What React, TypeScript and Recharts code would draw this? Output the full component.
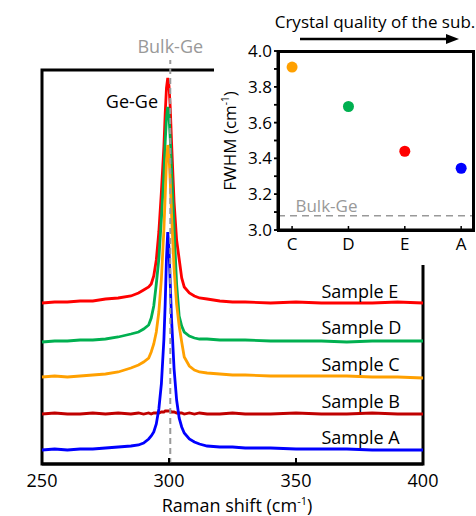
import React from "react";
import {
  LineChart,
  Line,
  XAxis,
  YAxis,
  ReferenceLine,
  ReferenceArea,
  ReferenceDot,
  ScatterChart,
  Scatter,
  Cell,
  Label,
} from "recharts";

const FONT = "'Open Sans', sans-serif";

// Raman shift positions (cm-1)
const ramanShift = [
  250, 255, 260, 265, 270, 275, 280, 285, 288, 290, 292, 293, 294, 295, 296, 297, 298, 298.5, 299, 299.5,
  300, 300.5, 301, 302, 303, 304, 305, 306, 308, 310, 312, 315, 320, 325, 330, 340, 350, 360, 370, 380, 390, 400,
];

// intensities (arb. units, stacked with offsets as in the figure)
const sampleE = [
  161, 162, 162, 163, 163, 165, 166, 168, 171, 174, 177, 180, 188, 204, 232, 272, 318, 350, 376, 386,
  378, 356, 322, 262, 224, 205, 186, 177, 171, 168, 166, 165, 163, 162, 162, 161, 162, 161, 161, 161, 162, 161,
];
const sampleD = [
  122, 123, 123, 124, 124, 125, 127, 130, 132, 135, 139, 146, 158, 180, 205, 245, 290, 322, 346, 357,
  348, 325, 295, 235, 180, 148, 138, 132, 128, 126, 125, 125, 124, 124, 124, 123, 123, 123, 122, 123, 123, 123,
];
const sampleC = [
  87, 88, 87, 88, 89, 90, 92, 96, 99, 102, 106, 112, 120, 132, 152, 185, 235, 268, 302, 319,
  308, 282, 250, 195, 160, 138, 122, 107, 98, 94, 92, 91, 90, 89, 89, 88, 88, 88, 88, 87, 87, 86,
];
const sampleB = [
  50, 51, 50, 50, 51, 50, 51, 50, 51, 50, 51, 50, 51, 51, 51, 52, 52, 53, 53, 53,
  53, 53, 52, 52, 51, 51, 51, 50, 51, 50, 51, 50, 50, 51, 50, 50, 51, 50, 50, 51, 50, 50,
];
const sampleA = [
  14, 15, 14, 15, 15, 16, 17, 18, 19, 21, 25, 28, 32, 40, 55, 80, 125, 160, 205, 232,
  215, 180, 145, 95, 64, 46, 37, 31, 25, 22, 20, 18, 17, 17, 16, 16, 15, 15, 15, 14, 14, 14,
];

const ramanTicks = [250, 300, 350, 400];
const bulkGePeak = 300.5;

// inset: FWHM vs sample
const fwhmSamples = ["C", "D", "E", "A"];
const fwhmValues = [3.91, 3.69, 3.44, 3.345];
const bulkGeFwhm = 3.08;
const fwhmTicks = [3, 3.1, 3.2, 3.3, 3.4, 3.5, 3.6, 3.7, 3.8, 3.9, 4];

const sampleColors: Record<string, string> = {
  A: "#0000ff",
  B: "#c00000",
  C: "#ffa000",
  D: "#00b050",
  E: "#ff0000",
};

const spectra = ramanShift.map((x, i) => ({
  x,
  A: sampleA[i],
  B: sampleB[i],
  C: sampleC[i],
  D: sampleD[i],
  E: sampleE[i],
}));

const fwhmData = fwhmSamples.map((s, i) => ({ pos: i + 1, fwhm: fwhmValues[i], sample: s }));

// plot boxes (page pixels) shared by the charts and the axis decoration overlay
const MAIN = { left: 42, right: 423, bottom: 464, xMin: 250, xMax: 400 };
const INSET = { left: 278, right: 473, top: 51, bottom: 230, xMin: 0.75, xMax: 4.21, yMin: 3, yMax: 4 };
const mainX = (v: number) => MAIN.left + ((v - MAIN.xMin) / (MAIN.xMax - MAIN.xMin)) * (MAIN.right - MAIN.left);
const insetX = (v: number) => INSET.left + ((v - INSET.xMin) / (INSET.xMax - INSET.xMin)) * (INSET.right - INSET.left);
const insetY = (v: number) => INSET.bottom - ((v - INSET.yMin) / (INSET.yMax - INSET.yMin)) * (INSET.bottom - INSET.top);

const RamanLabel = () => (
  <text x={237} y={512} textAnchor="middle" fontSize={18} fontFamily={FONT} fill="#000">
    Raman shift (cm
    <tspan dy={-7} fontSize={11}>-1</tspan>
    <tspan dy={7}>)</tspan>
  </text>
);

const IntensityLabel = () => (
  <text
    x={28}
    y={262}
    transform="rotate(-90 28 262)"
    textAnchor="middle"
    fontSize={18}
    fontFamily={FONT}
    fill="#000"
  >
    Intensity (arb.units)
  </text>
);

const FwhmLabel = () => (
  <text
    x={22}
    y={141}
    transform="rotate(-90 22 141)"
    textAnchor="middle"
    fontSize={17}
    fontFamily={FONT}
    fill="#000"
  >
    FWHM (cm
    <tspan dy={-7} fontSize={10}>-1</tspan>
    <tspan dy={7}>)</tspan>
  </text>
);

const sampleLabel = (value: string) => ({
  value,
  position: "right" as const,
  offset: 0,
  fontSize: 18,
  fontFamily: FONT,
  fill: "#000",
});

const frame = { stroke: "#000", strokeWidth: 3 };

export default function App() {
  return (
    <div style={{ position: "absolute", left: 0, top: 0, width: 476, height: 516, background: "#fff" }}>
      <LineChart width={476} height={516} data={spectra} margin={{ top: 60, right: 53, bottom: 22, left: 42 }}>
        <XAxis
          dataKey="x"
          type="number"
          domain={[MAIN.xMin, MAIN.xMax]}
          ticks={ramanTicks}
          axisLine={frame}
          tickLine={{ stroke: "none" }}
          tickMargin={4}
          height={30}
          tick={{ fill: "#000", fontSize: 18, fontFamily: FONT }}
          label={<Label content={RamanLabel} />}
        />
        <YAxis
          type="number"
          domain={[0, 404]}
          width={0}
          axisLine={false}
          tick={false}
          label={<Label content={IntensityLabel} />}
        />
        <ReferenceArea x1={250} x2={400} y1={0} y2={394} fill="none" stroke="#000" strokeWidth={3} ifOverflow="visible" />

        {(["E", "D", "C", "B", "A"] as const).map((k) => (
          <Line
            key={k}
            dataKey={k}
            type="linear"
            stroke={sampleColors[k]}
            strokeWidth={2.8}
            dot={false}
            isAnimationActive={false}
          />
        ))}

        <ReferenceLine
          x={bulkGePeak}
          stroke="#999"
          strokeWidth={2}
          strokeDasharray="6 4"
          label={{ value: "Bulk-Ge", position: "top", offset: 7, fill: "#999", fontSize: 18, fontFamily: FONT }}
        />

        <ReferenceDot
          x={285.4}
          y={362}
          r={0}
          fill="none"
          stroke="none"
          label={{ value: "Ge-Ge", position: "center", fontSize: 18, fontFamily: FONT, fill: "#000" }}
        />
        <ReferenceDot x={360} y={172} r={0} fill="none" stroke="none" label={sampleLabel("Sample E")} />
        <ReferenceDot x={360} y={136} r={0} fill="none" stroke="none" label={sampleLabel("Sample D")} />
        <ReferenceDot x={360} y={99} r={0} fill="none" stroke="none" label={sampleLabel("Sample C")} />
        <ReferenceDot x={360} y={62} r={0} fill="none" stroke="none" label={sampleLabel("Sample B")} />
        <ReferenceDot x={360} y={26} r={0} fill="none" stroke="none" label={sampleLabel("Sample A")} />
      </LineChart>

      <div style={{ position: "absolute", left: 214, top: 0, width: 262, height: 265, background: "#fff" }}>
        <ScatterChart width={262} height={265} margin={{ top: 51, right: 3, bottom: 5, left: 0 }}>
          <XAxis
            type="number"
            dataKey="pos"
            domain={[INSET.xMin, INSET.xMax]}
            allowDataOverflow
            ticks={[1, 2, 3, 4]}
            tickFormatter={(v: number) => fwhmSamples[v - 1]}
            axisLine={frame}
            tickLine={{ stroke: "none" }}
            tickMargin={2}
            height={30}
            interval={0}
            tick={{ fill: "#000", fontSize: 17, fontFamily: FONT }}
          />
          <YAxis
            type="number"
            dataKey="fwhm"
            domain={[INSET.yMin, INSET.yMax]}
            allowDataOverflow
            ticks={fwhmTicks}
            interval={0}
            tickFormatter={(v: number) => (Math.round(v * 10) % 2 === 0 ? v.toFixed(1) : "")}
            width={64}
            axisLine={frame}
            tickSize={4}
            tickMargin={2}
            tickLine={{ stroke: "#000", strokeWidth: 1.5 }}
            tick={{ fill: "#000", fontSize: 17, fontFamily: FONT }}
            label={<Label content={FwhmLabel} />}
          />
          <ReferenceLine y={bulkGeFwhm} stroke="#999" strokeWidth={1.5} strokeDasharray="7 5" ifOverflow="visible" />
          <ReferenceDot
            x={1.61}
            y={3.134}
            r={0}
            fill="none"
            stroke="none"
            ifOverflow="visible"
            label={{ value: "Bulk-Ge", position: "center", fontSize: 17, fontFamily: FONT, fill: "#999" }}
          />
          <Scatter
            data={fwhmData}
            isAnimationActive={false}
            shape={(p: any) => <circle cx={p.cx} cy={p.cy} r={5.5} fill={p.fill} />}
          >
            {fwhmData.map((d) => (
              <Cell key={d.sample} fill={sampleColors[d.sample]} />
            ))}
          </Scatter>
        </ScatterChart>
      </div>

      {/* inset frame */}
      <div
        style={{
          position: "absolute",
          left: INSET.left - 1.5,
          top: INSET.top - 1.5,
          width: INSET.right - INSET.left + 3,
          height: INSET.bottom - INSET.top + 3,
          border: "3px solid #000",
          boxSizing: "border-box",
          pointerEvents: "none",
        }}
      />

      {/* tick marks and the quality arrow */}
      <svg width={476} height={516} style={{ position: "absolute", left: 0, top: 0, pointerEvents: "none" }}>
        {ramanTicks.slice(1, -1).map((t) => (
          <line key={t} x1={mainX(t)} x2={mainX(t)} y1={MAIN.bottom} y2={MAIN.bottom - 6} stroke="#000" strokeWidth={2} />
        ))}
        {fwhmTicks.map((t) => (
          <line key={t} x1={INSET.left - 4} x2={INSET.left} y1={insetY(t)} y2={insetY(t)} stroke="#000" strokeWidth={1.5} />
        ))}
        {fwhmSamples.map((s, i) => (
          <line key={s} x1={insetX(i + 1)} x2={insetX(i + 1)} y1={INSET.bottom} y2={INSET.bottom - 4} stroke="#000" strokeWidth={1.5} />
        ))}
        <text x={375} y={28} textAnchor="middle" fontSize={17} fontFamily={FONT} fill="#000">
          Crystal quality of the sub.
        </text>
        <line x1={300} y1={39} x2={448} y2={39} stroke="#000" strokeWidth={2.5} />
        <polygon points="446,34 459,39 446,44" fill="#000" />
      </svg>
    </div>
  );
}
